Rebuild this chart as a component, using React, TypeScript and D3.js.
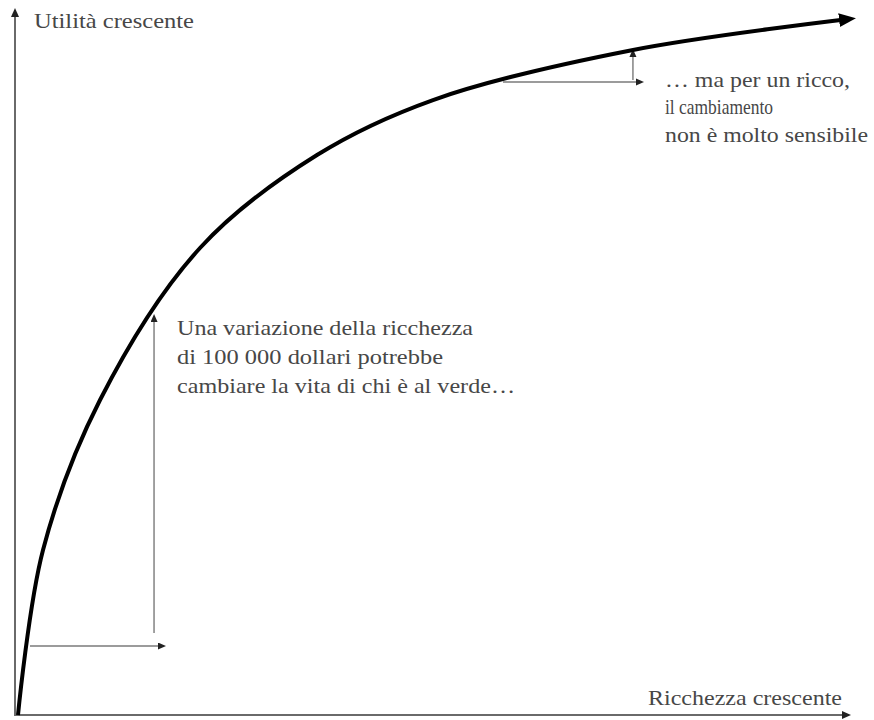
import React from "react";
import * as d3 from "d3";

// Curve data (wealth vs utility, arbitrary 0-100 units)
const wealth = [0, 3.01, 9.87, 21.9, 35.98, 49.94, 74.01, 100];
const utility = [0, 23.71, 45.26, 67.1, 80.46, 88.36, 95.55, 100];

// Annotation arrows: [x1, y1, x2, y2] in data units
const poorHorizontal = [1.44, 9.91, 17.33, 9.91];
const poorVertical = [16.37, 11.78, 16.37, 57.04];
const richHorizontal = [58.36, 90.95, 74.85, 90.95];
const richVertical = [74.0, 91.24, 74.0, 95.11];

const yAxisLabel = "Utilità crescente";
const xAxisLabel = "Ricchezza crescente";
const poorText = [
  "Una variazione della ricchezza",
  "di 100 000 dollari potrebbe",
  "cambiare la vita di chi è al verde…",
];
const richText = ["… ma per un ricco,", "il cambiamento", "non è molto sensibile"];

const W = 874;
const H = 720;

export default function App() {
  const x = d3.scaleLinear().domain([0, 100]).range([18, 849]);
  const y = d3.scaleLinear().domain([0, 100]).range([715, 19]);

  const pts: [number, number][] = wealth.map((w, i) => [w, utility[i]]);
  const line = d3
    .line<[number, number]>()
    .x((d) => x(d[0]))
    .y((d) => y(d[1]))
    .curve(d3.curveCatmullRom.alpha(0.5));

  const textFill = "#474747";
  const font =
    "'Liberation Serif', 'Times New Roman', Times, Tinos, 'DejaVu Serif', 'Noto Serif', Georgia, serif";

  const arrow = (a: number[], key: string) => (
    <line
      key={key}
      x1={x(a[0])}
      y1={y(a[1])}
      x2={x(a[2])}
      y2={y(a[3])}
      stroke="#7a7a7a"
      strokeWidth={1.4}
      markerEnd="url(#smallArrow)"
    />
  );

  const poorWidths = [296, 266, 338];
  const richWidths = [185, 108, 203];
  const poorBase = [335, 364, 393];
  const richBase = [87, 114, 142];

  const textProps = {
    fontSize: 21,
    fill: textFill,
    fontFamily: font,
    lengthAdjust: "spacingAndGlyphs",
  } as any;

  return (
    <svg
      width={W}
      height={H}
      style={{ position: "absolute", left: 0, top: 0, background: "#fff" }}
    >
      <defs>
        <marker
          id="bigArrow"
          markerUnits="userSpaceOnUse"
          markerWidth={20}
          markerHeight={16}
          refX={10}
          refY={7}
          orient="auto"
        >
          <path d="M0,0 L17,7 L0,14 z" fill="#000" />
        </marker>
        <marker
          id="axisArrow"
          markerUnits="userSpaceOnUse"
          markerWidth={12}
          markerHeight={10}
          refX={3}
          refY={4}
          orient="auto"
        >
          <path d="M0,0 L9,4 L0,8 z" fill="#222" />
        </marker>
        <marker
          id="smallArrow"
          markerUnits="userSpaceOnUse"
          markerWidth={12}
          markerHeight={10}
          refX={4}
          refY={3.5}
          orient="auto"
        >
          <path d="M0,0 L8,3.5 L0,7 z" fill="#222" />
        </marker>
      </defs>
      <rect width={W} height={H} fill="#fff" />

      {/* axes */}
      <line
        x1={15}
        y1={y(0) + 1}
        x2={15}
        y2={y(100) - 5}
        stroke="#6a6a6a"
        strokeWidth={2}
        markerEnd="url(#axisArrow)"
      />
      <line
        x1={14}
        y1={y(0)}
        x2={x(100) - 4}
        y2={y(0)}
        stroke="#6a6a6a"
        strokeWidth={2}
        markerEnd="url(#axisArrow)"
      />

      {/* annotation arrows */}
      {arrow(poorHorizontal, "ph")}
      {arrow(poorVertical, "pv")}
      {arrow(richHorizontal, "rh")}
      {arrow(richVertical, "rv")}

      {/* utility curve */}
      <path
        d={line(pts) || ""}
        fill="none"
        stroke="#000"
        strokeWidth={4}
        markerEnd="url(#bigArrow)"
      />

      {/* labels */}
      <text x={34} y={28} textLength={160} {...textProps}>
        {yAxisLabel}
      </text>
      <text x={648} y={705} textLength={194} {...textProps}>
        {xAxisLabel}
      </text>
      {poorText.map((t, i) => (
        <text key={"p" + i} x={177} y={poorBase[i]} textLength={poorWidths[i]} {...textProps}>
          {t}
        </text>
      ))}
      {richText.map((t, i) => (
        <text key={"r" + i} x={665} y={richBase[i]} textLength={richWidths[i]} {...textProps}>
          {t}
        </text>
      ))}
    </svg>
  );
}
